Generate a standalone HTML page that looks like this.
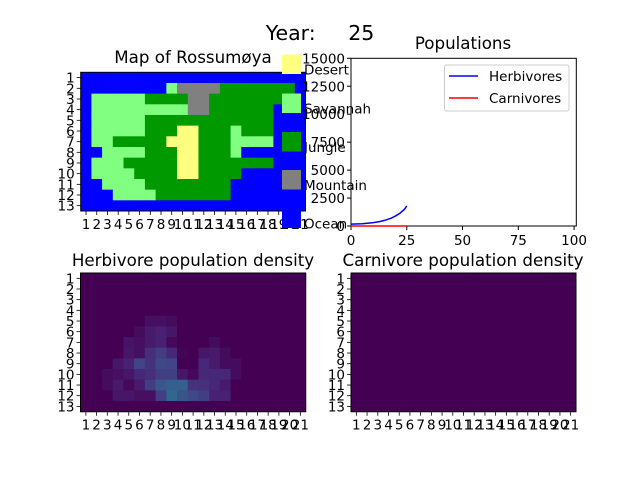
<!DOCTYPE html>
<html><head><meta charset="utf-8"><style>
html,body{margin:0;padding:0;background:#fff;}
svg{display:block;font-family:"DejaVu Sans","Liberation Sans",sans-serif;}
</style></head><body>
<svg id="fig" width="640" height="480" viewBox="0 0 640 480">
<rect width="640" height="480" fill="#fff"/>
<text x="320" y="40" font-size="20.5" text-anchor="middle" xml:space="preserve">Year:     25</text>
<text x="193" y="63" font-size="16.7" text-anchor="middle">Map of Rossumøya</text>
<text x="463" y="49" font-size="16.7" text-anchor="middle">Populations</text>
<text x="193" y="266" font-size="16.7" text-anchor="middle">Herbivore population density</text>
<text x="463" y="266" font-size="16.7" text-anchor="middle">Carnivore population density</text>
<g id="mapG"></g>
<g id="herbG"></g>
<g id="carnG"></g>
<g id="popG"></g>
<g id="legG"></g>
</svg>
<script>
const mapRows = [
"OOOOOOOOOOOOOOOOOOOOO",
"OOOOOOOOSMMMMJJJJJJJO",
"OSSSSSJJJJMMJJJJJJJOO",
"OSSSSSSSSSMMJJJJJJOOO",
"OSSSSSJJJJJJJJJJJJOOO",
"OSSSSSJJJDDJJJSJJJOOO",
"OSSJJJJJDDDJJJSSSSOOO",
"OOSSSSJJJDDJJJSOOOOOO",
"OSSSJJJJJDDJJJJJJJOOO",
"OSSSSJJJJDDJJJJOOOOOO",
"OOSSSSJJJJJJJJOOOOOOO",
"OOOSSSSJJJJJJJOOOOOOO",
"OOOOOOOOOOOOOOOOOOOOO"];
const herbDensity = [
[0,0,0,0,0,0,0,0,0,0,0,0,0,0,0,0,0,0,0,0,0],
[0,0,0,0,0,0,0,0,0,0,0,0,0,0,0,0,0,0,0,0,0],
[0,0,0,0,0,0,0,0,0,0,0,0,0,0,0,0,0,0,0,0,0],
[0,0,0,0,0,0,0,0,0,0,0,0,0,0,0,0,0,0,0,0,0],
[0,0,0,0,0,0,0.04,0.04,0.03,0,0,0,0,0,0,0,0,0,0,0,0],
[0,0,0,0,0,0.03,0.07,0.09,0.06,0,0,0,0,0,0,0,0,0,0,0,0],
[0,0,0,0,0.05,0.04,0.07,0.09,0.02,0,0,0,0.03,0,0,0,0,0,0,0,0],
[0,0,0,0,0.06,0.04,0.13,0.18,0.11,0.01,0,0.06,0.07,0.03,0,0,0,0,0,0,0],
[0,0,0,0.06,0.09,0.2,0.14,0.22,0.2,0,0,0.11,0.07,0.03,0.03,0,0,0,0,0,0],
[0,0,0.03,0.04,0.06,0.11,0.13,0.18,0.18,0.06,0.02,0.11,0.11,0.11,0.03,0,0,0,0,0,0],
[0,0,0.03,0.07,0.02,0.07,0.18,0.27,0.3,0.3,0.14,0.14,0.11,0.07,0,0,0,0,0,0,0],
[0,0,0,0.06,0.06,0.04,0.04,0.18,0.33,0.26,0.22,0.18,0.09,0.09,0,0,0,0,0,0,0],
[0,0,0,0,0,0,0,0,0,0,0,0,0,0,0,0,0,0,0,0,0]];
const years = [0,5,10,13,15,18,20,22,24,25];
const herbivores = [170,200,300,400,500,700,900,1150,1500,1800];
const carnivores = [0,0,0,0,0,0,0,0,0,0];
const popXTicks = [0,25,50,75,100];
const popYTicks = [0,2500,5000,7500,10000,12500,15000];
const legendNames = ["Desert","Savannah","Jungle","Mountain","Ocean"];

const NS="http://www.w3.org/2000/svg";
function mk(tag,parent,attrs){const e=document.createElementNS(NS,tag);for(const k in attrs)e.setAttribute(k,attrs[k]);parent.appendChild(e);return e;}
const colors={O:"#0000ff",S:"#80ff80",J:"#009900",M:"#808080",D:"#ffff80"};
const vir=[[0,[68,1,84]],[0.1,[72,36,117]],[0.2,[65,68,135]],[0.3,[53,95,141]],[0.4,[42,120,142]],[0.5,[33,145,140]],[0.6,[34,168,132]],[0.8,[122,209,81]],[1,[253,231,37]]];
function viridis(v){for(let i=1;i<vir.length;i++){if(v<=vir[i][0]){const a=vir[i-1],b=vir[i];const t=(v-a[0])/(b[0]-a[0]);return "rgb("+a[1].map((c,j)=>Math.round(c+(b[1][j]-c)*t)).join(",")+")";}}return "rgb(253,231,37)";}

function gridAxes(g,x0,y0,x1,y1,name){
  const cw=(x1-x0)/21,rh=(y1-y0)/13;
  for(let i=0;i<21;i++){const cx=x0+(i+0.5)*cw;
    const tk=mk("line",g,{x1:cx,x2:cx,y1:y1,y2:y1+4,stroke:"#000","stroke-width":0.8});
    
    
    const t=mk("text",g,{x:cx,y:y1+18,"font-size":13.5,"text-anchor":"middle"});t.textContent=String(i+1);
    
    }
  for(let r=0;r<13;r++){const cy=y0+(r+0.5)*rh;
    const tk=mk("line",g,{x1:x0-4,x2:x0,y1:cy,y2:cy,stroke:"#000","stroke-width":0.8});
    
    
    const t=mk("text",g,{x:x0-6,y:cy+5,"font-size":13.5,"text-anchor":"end"});t.textContent=String(r+1);
    
    }
  const f=mk("rect",g,{x:x0,y:y0,width:x1-x0,height:y1-y0,fill:"none",stroke:"#000","stroke-width":1});
  
  
}
(function(){const g=document.getElementById("mapG");const x0=80.7,y0=72.3,x1=305.5,y1=211;const cw=(x1-x0)/21,rh=(y1-y0)/13;
mapRows.forEach((row,r)=>{[...row].forEach((c,i)=>{const e=mk("rect",g,{x:x0+i*cw,y:y0+r*rh,width:cw+0.4,height:rh+0.4,fill:colors[c]});

});});
gridAxes(g,x0,y0,x1,y1,'map');})();
function heat(id,data,x0,y0,x1,y1,name){const g=document.getElementById(id);const cw=(x1-x0)/21,rh=(y1-y0)/13;
for(let r=0;r<13;r++)for(let i=0;i<21;i++){const v=data?data[r][i]:0;const e=mk("rect",g,{x:x0+i*cw,y:y0+r*rh,width:cw+0.4,height:rh+0.4,fill:viridis(v)});

}
gridAxes(g,x0,y0,x1,y1,name);}
heat("herbG",herbDensity,80.5,273,305.7,411.7,'herbivore-density');
heat("carnG",null,351,273,576,411.7,'carnivore-density');
(function(){const g=document.getElementById("popG");const x0=351,y0=58.3,x1=576.3,y1=226;
const sx=v=>x0+(v/101)*(x1-x0),sy=v=>y1-(v/15000)*(y1-y0);
const f=mk("rect",g,{x:x0,y:y0,width:x1-x0,height:y1-y0,fill:"#fff",stroke:"#000","stroke-width":1});


popXTicks.forEach(v=>{const tk=mk("line",g,{x1:sx(v),x2:sx(v),y1:y1,y2:y1+4,stroke:"#000"});


const t=mk("text",g,{x:sx(v),y:y1+19,"font-size":13.5,"text-anchor":"middle"});t.textContent=v;

});
popYTicks.forEach(v=>{const tk=mk("line",g,{x1:x0-4,x2:x0,y1:sy(v),y2:sy(v),stroke:"#000"});


const t=mk("text",g,{x:x0-6,y:sy(v)+5,"font-size":13.5,"text-anchor":"end"});t.textContent=v;

});
const h=mk("polyline",g,{points:years.map((y,i)=>sx(y)+","+sy(herbivores[i])).join(" "),fill:"none",stroke:"#0000ff","stroke-width":1.5});


const c=mk("polyline",g,{points:years.map((y,i)=>sx(y)+","+sy(carnivores[i])).join(" "),fill:"none",stroke:"#ff0000","stroke-width":1.5});


const lb=mk("rect",g,{x:444.5,y:65,width:124.5,height:46,rx:2,fill:"#fff",stroke:"#ccc","stroke-width":1});


[["Herbivores","#0000ff",76],["Carnivores","#ff0000",98]].forEach(([n,col,y])=>{
const l=mk("line",g,{x1:449,x2:478,y1:y,y2:y,stroke:col,"stroke-width":1.5});


const t=mk("text",g,{x:489,y:y+5,"font-size":13.5});t.textContent=n;

});})();
(function(){const g=document.getElementById("legG");const fills=["#ffff80","#80ff80","#009900","#808080","#0000ff"];
const tops=[54.5,93.5,132,170,208.5];
legendNames.forEach((n,i)=>{const r=mk("rect",g,{x:282,y:tops[i],width:19,height:19.5,fill:fills[i]});


const t=mk("text",g,{x:304,y:tops[i]+20,"font-size":13.5});t.textContent=n;

});})();
</script>
</body></html>
